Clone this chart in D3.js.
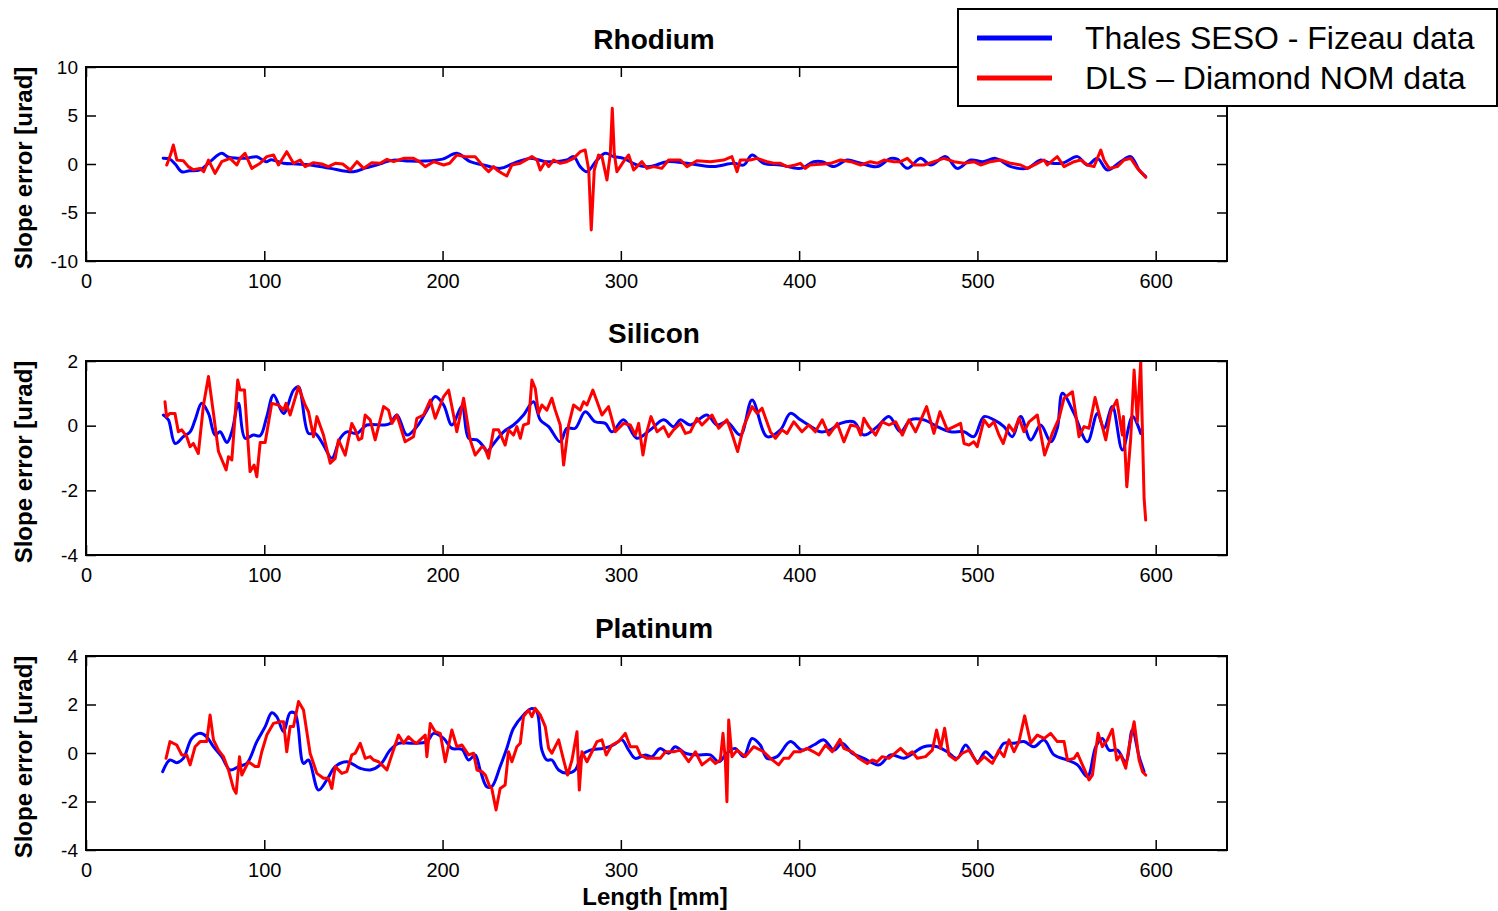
<!DOCTYPE html>
<html>
<head>
<meta charset="utf-8">
<script src="https://cdn.jsdelivr.net/npm/d3@7"></script>
<style>
  html, body { margin: 0; padding: 0; background: #fff; }
  svg { display: block; font-family: Arial, "Liberation Sans", sans-serif; }
</style>
</head>
<body>
<svg id="chart" width="1498" height="911"></svg>
<script>
// Slope error profiles [urad] along the mirror length [mm]
const xTicks = [0, 100, 200, 300, 400, 500, 600];
const seriesNames = ["Thales SESO - Fizeau data", "DLS \u2013 Diamond NOM data"];
const panelTitles = ["Rhodium", "Silicon", "Platinum"];
const rhodiumTicks = [-10, -5, 0, 5, 10];
const siliconTicks = [-4, -2, 0, 2];
const platinumTicks = [-4, -2, 0, 2, 4];

const rhodiumFizeau = [[43.3,0.6],[47,0.5],[50,0],[53.7,-0.8],[58,-0.7],[64,-0.6],[70,0.3],[76,1.1],[80,0.7],[84.6,0.6],[90,0.6],[95.8,0.75],[101,0.24],[104,0.45],[110.7,0.07],[118,0],[125.7,-0.1],[137,-0.45],[150,-0.8],[157,-0.4],[163,-0.1],[172.5,0.4],[181,0.3],[190,0.3],[200,0.5],[208,1.1],[215.5,0.24],[223,-0.1],[232.3,-0.45],[239.8,0.07],[249.2,0.58],[258.5,0.24],[269.7,0.41],[273.5,0.76],[277.2,-0.27],[281,-0.79],[286.6,0.41],[291.3,1.1],[296,0.76],[301.5,0.58],[309,-0.1],[316.5,-0.27],[325.9,0.24],[337.1,0.07],[352,-0.27],[363.3,0.07],[369,-0.1],[373.6,0.93],[380.1,0.07],[389.5,-0.1],[400.7,-0.45],[408.2,0.24],[413,0.24],[419.5,-0.27],[427,0.41],[434,0.1],[443.8,-0.27],[451.3,0.58],[455,0.5],[460.7,-0.45],[468.1,0.58],[473.8,-0.1],[482.2,0.76],[488.7,-0.45],[496.2,0.41],[503,0.24],[510.2,0.58],[518.7,-0.27],[528,-0.45],[535.5,0.41],[541,0.1],[548,0.1],[556.1,0.76],[561.7,-0.1],[567.3,0.58],[572.9,-0.62],[580.4,0.24],[586,0.76],[590.7,-0.62],[594.4,-1.3]];
const rhodiumNom = [[45.3,-0.1],[47.5,1],[49,1.96],[51,0.4],[54.6,0.34],[57.4,-0.27],[60.2,-0.6],[64,-0.45],[66,-0.8],[68.7,0.4],[72.4,-0.96],[76.1,0.24],[80.8,0.58],[84.6,-0.1],[86.4,0.58],[89.2,1.1],[93,-0.45],[97.7,0.07],[101.4,0.76],[105.2,0.93],[108,-0.1],[112.6,1.27],[116.4,0.07],[120.1,0.41],[122.9,-0.27],[127.6,0.14],[132.3,0],[136,-0.27],[139.8,0.07],[144,0],[148.2,-0.62],[152,0.24],[155.7,-0.45],[160.3,0.14],[165,0.07],[168.8,0.48],[172.5,0.24],[178.1,0.58],[183.7,0.58],[187,0.24],[190.3,-0.27],[195,0.24],[200.6,-0.1],[204,0.07],[208,0.93],[212.7,0.76],[218.3,0.76],[223,-0.27],[225.8,-0.79],[228.6,-0.27],[230.5,-0.62],[233.3,-0.96],[236,-1.24],[238.9,-0.1],[243.6,0.07],[250.1,0.76],[253,0.41],[254.8,-0.62],[257.6,0.24],[259.5,-0.27],[262.3,0.41],[266,0.07],[269.7,0.24],[273.5,0.58],[277.2,1.27],[280,1.44],[282,-0.62],[283.4,-6.8],[285.1,-0.62],[287.5,0.93],[289.4,0.76],[292.2,-1.65],[294.1,1.1],[295.2,5.74],[296.3,1.1],[297.8,-0.79],[301.5,0.24],[304.4,0.93],[307.2,-0.62],[311.8,0.24],[314.6,-0.45],[318.4,-0.27],[323,-0.45],[326.8,0.41],[333.4,0.41],[337.1,-0.27],[342.7,0.34],[350.2,0.24],[357.7,0.41],[362.3,0.76],[365.2,-0.79],[367,0.41],[372.6,0.41],[376.4,0.58],[382,0.24],[385.7,0.07],[389.5,0.07],[393.2,-0.27],[397.9,-0.1],[400.7,0.07],[403.5,-0.45],[406,-0.1],[413.9,0],[417.6,0.07],[423.2,0.41],[428.9,0.24],[434.5,-0.1],[440,0.24],[443.8,0.07],[447.6,0.41],[453.2,0.24],[456.9,0.24],[460.7,0.58],[464.4,-0.1],[470,-0.1],[475.6,0.24],[481.2,0.58],[486.9,0.24],[492.5,0.07],[498,0.24],[501.8,-0.1],[507.4,0.24],[513,0.41],[518.7,0.07],[524.3,-0.1],[528,-0.45],[533.6,0.07],[537.4,0.41],[539.2,-0.1],[544.8,0.76],[548.6,-0.27],[554.2,0.24],[558,0.41],[561.7,-0.1],[565.4,-0.27],[569.2,1.44],[571,0.41],[573.9,-0.45],[578.5,-0.27],[582.3,0.41],[586,0.58],[589.8,-0.45],[594.4,-1.37]];

const siliconFizeau = [[43.4,0.33],[46.2,0.18],[50,-0.55],[54.6,-0.34],[58.4,-0.19],[61.2,0.18],[64.9,0.69],[68.7,0.38],[72.4,-0.29],[75.2,-0.19],[79,-0.52],[81.8,-0.19],[85.5,0.69],[89.2,-0.39],[93.9,-0.29],[97.7,-0.31],[101.4,0.28],[105.2,0.95],[110.8,0.38],[116.4,1.1],[119.2,1.2],[124.8,-0.24],[128.5,-0.24],[133.2,-0.6],[137.9,-1.01],[142.6,-0.39],[146.3,-0.19],[151.9,-0.24],[157.5,0.02],[166.9,0.02],[170.6,0.07],[174.4,0.33],[180,-0.29],[185.6,-0.03],[191.2,0.48],[195.9,0.9],[200.6,0.64],[205.2,0.02],[210.9,0.59],[214.6,-0.39],[219.3,-0.44],[223,-0.65],[224.8,-0.8],[228.6,-0.56],[234.2,-0.19],[239.8,0.02],[245.4,0.33],[251,0.74],[254.8,0.18],[259.5,-0.03],[266,-0.5],[269.7,-0.08],[274.4,-0.08],[280,0.43],[285.6,0.12],[291.3,0.07],[295,-0.19],[301.5,0.18],[309,-0.39],[316.5,-0.13],[324,0.18],[329.6,-0.03],[333.4,0.18],[339,0.02],[348.3,0.33],[353.9,0.02],[359.5,0.12],[367,-0.29],[373.6,0.79],[382,-0.34],[389.5,-0.13],[395.1,0.38],[400.7,0.18],[408.2,-0.08],[412,-0.19],[417.6,-0.13],[423.2,0.07],[430.7,0.12],[436.3,-0.29],[443.8,-0.03],[450.4,0.28],[456.9,-0.19],[462.5,0.18],[470,0.18],[477.5,-0.03],[485,-0.19],[492.5,-0.19],[498,-0.34],[503.7,0.28],[509.3,0.18],[514.9,-0.03],[519.6,-0.34],[524.3,0.28],[529.9,-0.44],[535.5,0.02],[541.1,-0.5],[544.8,-0.08],[547.7,1],[554.2,0.38],[561.7,-0.5],[567.3,0.38],[571,-0.08],[575.7,0.59],[581.3,-0.75],[587,0.28],[591.6,-0.24]];
const siliconNom = [[44.3,0.74],[45.2,0.28],[47.1,0.38],[49.9,0.38],[51.8,-0.19],[53.7,-0.13],[56.5,-0.34],[58.4,-0.65],[60.2,-0.55],[63,-0.86],[65.9,0.64],[68.7,1.52],[71.5,0.38],[74.3,-0.8],[78.6,-1.37],[79.9,-0.96],[81.8,-1.06],[85.1,1.41],[86.4,1.1],[88.9,1.1],[92,-1.42],[94.3,-1.22],[95.8,-1.58],[97.7,-0.52],[100.5,-0.52],[104.2,0.69],[108,0.64],[110.8,0.48],[112.2,0.69],[114.5,0.33],[119.2,1.2],[122.9,0.64],[124.8,0.43],[127.6,-0.34],[129.5,0.28],[133.2,-0.29],[137,-1.16],[139.8,-1.01],[141.6,-0.44],[145.4,-0.91],[149.1,0.07],[151,-0.13],[152.9,-0.44],[154.7,-0.39],[156.6,0.33],[159.4,0.18],[162.2,-0.44],[166.9,0.59],[169.7,0.48],[171.6,0.07],[174.4,0.33],[179,-0.5],[183.7,-0.34],[185.6,0.23],[189.3,0.33],[193.1,0.79],[195.9,0.23],[200.6,0.9],[203.4,1.1],[208,-0.19],[211.8,0.85],[215.5,-0.44],[218.3,-0.91],[222.1,-0.65],[223.8,-0.7],[225.8,-1.01],[228.6,-0.13],[231.4,-0.13],[235.1,-0.6],[237,-0.13],[239.8,-0.29],[241.7,-0.03],[243.6,-0.39],[245.4,0.02],[248.2,0.07],[250.1,1.41],[252,1.15],[253.8,0.38],[255.7,0.64],[258.5,0.48],[261.3,0.85],[263.2,0.48],[266,0.02],[267.9,-1.22],[270.7,0.02],[273.5,0.64],[277.2,0.48],[279.1,0.74],[281,0.64],[284.3,1.1],[289.4,0.33],[293.1,0.59],[296.9,-0.19],[301.5,0.07],[305.3,0.02],[308.1,-0.29],[310,0.07],[312.4,-0.91],[314.6,-0.19],[316.9,0.28],[320.3,-0.19],[324,-0.03],[326.8,-0.34],[329.6,-0.13],[333.4,0.07],[336.2,-0.24],[339,-0.19],[342.7,0.23],[345.5,0.02],[348.3,0.18],[351.1,0.33],[354.9,-0.08],[359.5,0.18],[362.3,-0.24],[365.5,-0.8],[368.9,-0.03],[373.6,0.59],[376.4,0.38],[379.2,0.54],[383.9,-0.19],[386.7,-0.39],[390.4,-0.13],[393.2,-0.24],[397,0.12],[401.6,-0.19],[405.4,0.02],[409.1,-0.19],[413,0.18],[416.7,-0.29],[421.4,0.07],[425.1,-0.5],[428.9,0.02],[432.6,-0.03],[434.5,-0.29],[436.3,0.23],[439.1,-0.03],[442.9,-0.29],[446.6,0.12],[450.4,0.02],[454.1,0.12],[457.9,-0.29],[461.6,0.18],[465.3,-0.19],[469.1,0.28],[471.5,0.59],[475.6,-0.24],[479,0.43],[483.1,-0.13],[486.9,-0.03],[490.6,0.07],[492.5,-0.55],[495.3,-0.6],[498,-0.5],[499.9,-0.65],[503.7,0.18],[506.5,-0.03],[509.3,0.12],[512.1,-0.29],[514.5,-0.55],[517.7,0.02],[520.5,-0.19],[523.3,0.23],[526.1,-0.19],[529,0.12],[533.6,0.33],[537.7,-0.91],[542,-0.24],[545.8,0.23],[548.6,0.85],[553.3,1.05],[557,-0.34],[559.8,-0.03],[562.6,-0.08],[566,0.87],[568.2,0.38],[572,-0.44],[574.8,0.43],[578.2,0.79],[581.3,-0.29],[581.9,0.28],[583.8,-1.89],[586,-0.39],[587.9,1.72],[589.7,0.12],[591.6,1.98],[593.5,-2.25],[594.4,-2.92]];

const platinumFizeau = [[43,-0.77],[47.1,-0.29],[50.9,-0.4],[54.6,-0.22],[59.3,0.6],[64,0.81],[67.7,0.67],[71.5,0.26],[76.1,-0.15],[80.8,-0.7],[85.5,-0.56],[90.2,-0.43],[95.8,0.47],[100.5,1.09],[104.2,1.66],[107,1.5],[110.8,0.88],[114.5,1.66],[117.3,1.63],[122,-0.43],[124.8,-0.29],[130.4,-1.53],[135.1,-1.11],[139.8,-0.56],[146.3,-0.36],[153.8,-0.63],[159.4,-0.7],[165,-0.49],[170.6,0.12],[175.3,0.4],[183.7,0.4],[191.2,0.47],[195,0.81],[200.6,0.6],[205.2,0.19],[210.9,0.15],[214.6,-0.29],[218.3,-0.08],[221.1,-0.7],[224.8,-1.39],[227.6,-1.39],[232.3,-0.56],[236,0.19],[239.8,1.02],[245.4,1.57],[250.1,1.84],[252.9,1.7],[255.7,0.12],[258.5,-0.29],[261.3,-0.29],[265.1,-0.7],[269.7,-0.84],[274.4,-0.7],[278.2,-0.08],[282.8,0.12],[290.3,0.19],[295.9,0.33],[300.6,0.54],[304.4,0.12],[308.1,-0.22],[313.7,-0.08],[317.4,-0.15],[322.1,0.19],[326.8,-0.01],[330.5,0.26],[336.2,-0.01],[342.7,-0.08],[350.2,-0.08],[354.9,-0.36],[359.5,-0.01],[364.2,0.19],[368.9,-0.15],[373.6,0.6],[378.2,0.33],[382,-0.22],[387.6,-0.15],[395.1,0.47],[401.6,0.12],[408.2,0.33],[413.9,0.54],[419.5,0.12],[424.2,0.4],[429.8,-0.01],[436.3,-0.22],[444.8,-0.49],[451.3,-0.08],[458.8,-0.22],[462.5,-0.08],[470,0.26],[477.5,0.26],[483.1,0.05],[488.7,-0.22],[493.4,0.33],[500,-0.36],[504.6,0.05],[509.3,-0.22],[514.9,0.4],[520.5,0.4],[526.1,0.47],[531.8,0.26],[537.4,0.54],[543,-0.08],[550.5,-0.29],[556.1,-0.49],[561.7,-0.98],[566.4,0.26],[570.1,0.6],[573.9,0.12],[578.5,0.12],[583.2,-0.36],[586.9,0.95],[590.7,-0.15],[593.5,-0.77]];
const platinumNom = [[44.9,-0.22],[47.1,0.47],[50.9,0.33],[53.7,-0.08],[56.5,-0.08],[58.4,-0.49],[61.2,0.26],[64,0.47],[67.7,0.47],[69.6,1.57],[71.5,0.54],[74.3,0.12],[77.1,-0.15],[79.9,-0.7],[82.7,-1.46],[84.2,-1.66],[86.1,-0.15],[87.4,-0.91],[91.1,-0.36],[94.9,-0.56],[96.7,-0.56],[98.6,0.05],[101.4,0.74],[105.1,1.22],[108.9,1.29],[110.8,1.29],[112.6,0.05],[114.5,1.09],[116.4,1.09],[119.2,2.12],[122,1.77],[125.7,-0.01],[129.5,-0.84],[133.2,-1.04],[136,-1.04],[137.9,-1.46],[139.8,-0.56],[143.5,-0.84],[146.3,-0.77],[149.1,-0.08],[151,-0.01],[153.8,0.4],[156.6,-0.22],[159.4,-0.15],[161.3,-0.29],[164.1,-0.36],[166,-0.49],[168.8,-0.7],[170.6,-0.29],[173.4,0.33],[175.3,0.74],[178.1,0.4],[180.9,0.67],[183.7,0.47],[185.6,0.4],[187.4,0.54],[190.3,0.74],[191.2,-0.15],[193.1,1.22],[195.9,0.88],[198.7,0.81],[201.5,-0.36],[205.2,0.95],[208,0.26],[210.9,0.33],[214.6,-0.08],[217.4,-0.01],[219.3,-0.7],[222.1,-0.77],[224,-0.91],[226.5,-1.39],[227.6,-1.46],[230,-2.35],[232.3,-1.46],[235.1,-1.32],[237,0.05],[238.9,-0.36],[241.7,0.26],[243.6,0.4],[245.4,1.5],[248.2,1.77],[250.1,1.5],[252,1.84],[254.8,1.57],[257.6,1.09],[259.5,0.19],[261.3,-0.01],[265.1,0.54],[267.9,-0.29],[270.1,-0.91],[272.6,-0.29],[275.4,0.88],[276.7,-1.53],[278.2,0.05],[281,-0.36],[283.8,0.05],[286.6,0.47],[289.4,0.54],[291.8,-0.08],[295,0.33],[298.7,0.47],[302.5,0.81],[305.3,0.26],[309,0.26],[310.9,-0.08],[314.6,-0.22],[318.4,-0.22],[322.1,-0.22],[325,0.05],[329.6,0.05],[333.4,0.12],[338,-0.36],[341.8,0.05],[345.5,-0.49],[350.2,-0.22],[353,-0.43],[355.8,-0.29],[357.3,0.81],[358.6,-0.29],[359.5,-2.01],[360.5,1.36],[362.3,-0.15],[365.2,0.12],[369.8,-0.15],[374.5,0.26],[380.1,0.05],[383.9,-0.22],[388.5,-0.49],[391.3,-0.22],[394.2,-0.22],[397,0.05],[400.7,0.05],[404.4,0.19],[408.2,0.05],[411.1,-0.08],[414.8,0.33],[418.6,0.05],[422.9,0.56],[425.1,0.19],[429.8,0.05],[433.5,-0.22],[438.2,-0.43],[441,-0.29],[443.8,-0.36],[446.6,-0.15],[450.4,-0.22],[456.9,0.19],[460.7,-0.08],[463.5,0.05],[466.3,-0.22],[470.9,-0.15],[474.7,0.12],[477.1,0.95],[479.4,0.19],[481.6,1.02],[484,-0.08],[487.8,-0.29],[491.5,-0.01],[495.3,0.12],[500,-0.43],[503.7,-0.15],[508.4,-0.43],[512.1,0.12],[514.9,-0.15],[517.7,0.54],[520.5,0.05],[523.3,0.47],[526.5,1.53],[529.9,0.4],[533.6,0.74],[537.4,0.6],[541.1,0.81],[544.8,0.47],[548.6,0.47],[550.5,-0.29],[554.2,-0.22],[556.1,-0.01],[558.9,-0.49],[562.6,-1.11],[564.5,-0.91],[567.7,0.81],[570.1,0.26],[572.9,0.54],[575.7,0.98],[578.2,-0.29],[580.4,-0.08],[583.2,-0.63],[585.1,0.26],[587.9,1.29],[590.7,-0.29],[592.6,-0.77],[594.4,-0.91]];

const seriesColors = ["#0000ff", "#ff0000"];
// Fizeau traces are smooth; NOM traces keep their sharp features
const seriesCurves = [d3.curveCatmullRom.alpha(0.5), d3.curveLinear];

const panels = [
  { title: panelTitles[0], top: 67, bottom: 261, yDomain: [-10, 10], yTicks: rhodiumTicks, series: [rhodiumFizeau, rhodiumNom] },
  { title: panelTitles[1], top: 361, bottom: 555, yDomain: [-4, 2], yTicks: siliconTicks, series: [siliconFizeau, siliconNom] },
  { title: panelTitles[2], top: 656, bottom: 850, yDomain: [-4, 4], yTicks: platinumTicks, series: [platinumFizeau, platinumNom] }
];

const svg = d3.select("#chart");
const left = 86, right = 1227;
const x = d3.scaleLinear().domain([0, 640]).range([left, right]);
const plainNumber = d => String(d);

panels.forEach(p => {
  const y = d3.scaleLinear().domain(p.yDomain).range([p.bottom, p.top]);
  const g = svg.append("g");

  // clip the traces to the plot box
  const clipId = "clip-" + p.title;
  svg.append("clipPath").attr("id", clipId)
    .append("rect").attr("x", left).attr("y", p.top - 2)
    .attr("width", right - left).attr("height", p.bottom - p.top + 4);

  p.series.forEach((s, i) => {
    const line = d3.line().x(d => x(d[0])).y(d => y(d[1])).curve(seriesCurves[i]);
    g.append("path")
      .datum(s)
      .attr("clip-path", `url(#${clipId})`)
      .attr("fill", "none")
      .attr("stroke", seriesColors[i])
      .attr("stroke-width", 3)
      .attr("stroke-linejoin", "round")
      .attr("stroke-linecap", "round")
      .attr("d", line);
  });

  // axes with inward ticks on all four sides
  const axBottom = g.append("g").attr("transform", `translate(0,${p.bottom})`)
    .call(d3.axisBottom(x).tickValues(xTicks).tickFormat(plainNumber).tickSizeInner(-10).tickSizeOuter(0).tickPadding(13));
  const axTop = g.append("g").attr("transform", `translate(0,${p.top})`)
    .call(d3.axisTop(x).tickValues(xTicks).tickSizeInner(-10).tickSizeOuter(0).tickFormat(""));
  const axLeft = g.append("g").attr("transform", `translate(${left},0)`)
    .call(d3.axisLeft(y).tickValues(p.yTicks).tickFormat(plainNumber).tickSizeInner(-10).tickSizeOuter(0).tickPadding(8));
  const axRight = g.append("g").attr("transform", `translate(${right},0)`)
    .call(d3.axisRight(y).tickValues(p.yTicks).tickSizeInner(-10).tickSizeOuter(0).tickFormat(""));

  [axBottom, axTop, axLeft, axRight].forEach(a => {
    a.select(".domain").remove();
    a.selectAll(".tick line").attr("stroke", "#000").attr("stroke-width", 1.5);
    a.selectAll("text").attr("fill", "#000").style("font-family", "Arial, 'Liberation Sans', sans-serif");
  });
  axBottom.selectAll("text").style("font-size", "20px");
  axLeft.selectAll("text").style("font-size", "19px");

  // frame
  g.append("rect")
    .attr("x", left).attr("y", p.top)
    .attr("width", right - left).attr("height", p.bottom - p.top)
    .attr("fill", "none").attr("stroke", "#000").attr("stroke-width", 2);

  // panel title
  g.append("text")
    .attr("x", 654).attr("y", p.top - 18)
    .attr("text-anchor", "middle")
    .style("font-size", "28px").style("font-weight", "bold")
    .text(p.title);

  // y-axis label
  g.append("text")
    .attr("transform", `translate(32,${(p.top + p.bottom) / 2 + 4}) rotate(-90)`)
    .attr("text-anchor", "middle")
    .style("font-size", "24px").style("font-weight", "bold")
    .text("Slope error [urad]");
});

// x-axis label
svg.append("text")
  .attr("x", 655).attr("y", 905)
  .attr("text-anchor", "middle")
  .style("font-size", "24px").style("font-weight", "bold")
  .text("Length [mm]");

// legend
const legend = svg.append("g");
legend.append("rect")
  .attr("x", 958).attr("y", 9).attr("width", 539).attr("height", 97)
  .attr("fill", "#fff").attr("stroke", "#000").attr("stroke-width", 2);
seriesNames.forEach((name, i) => {
  const ly = 38 + i * 40;
  legend.append("line")
    .attr("x1", 977).attr("x2", 1052).attr("y1", ly).attr("y2", ly)
    .attr("stroke", seriesColors[i]).attr("stroke-width", 5);
  legend.append("text")
    .attr("x", 1085).attr("y", ly + 11)
    .style("font-size", "32px")
    .text(name);
});
</script>
</body>
</html>
